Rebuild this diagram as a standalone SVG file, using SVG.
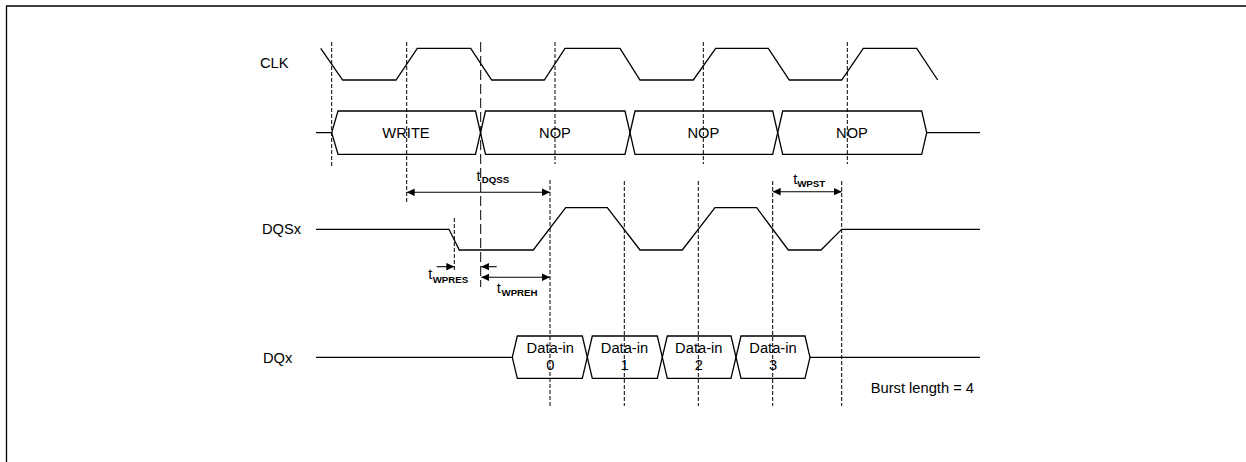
<svg xmlns="http://www.w3.org/2000/svg" width="1246" height="462" viewBox="0 0 1246 462">
<style>
.w{fill:none;stroke:#000;stroke-width:1.3;stroke-linejoin:miter}
.d{fill:none;stroke:#000;stroke-width:1;stroke-dasharray:4 2}
.dl{fill:none;stroke:#000;stroke-width:1;stroke-dasharray:10 4}
.a{fill:none;stroke:#000;stroke-width:1.1}
.t{font-family:"Liberation Sans",Arial,sans-serif;font-size:14.7px;fill:#000}
.c{text-anchor:middle}
.s{font-family:"Liberation Sans",Arial,sans-serif;font-size:9.7px;font-weight:bold;fill:#000}
</style>
<defs>
<marker id="ah" markerUnits="userSpaceOnUse" markerWidth="8" markerHeight="8" refX="8" refY="3.75" orient="auto-start-reverse" viewBox="0 0 8 7.5">
<path d="M0,0 L8,3.75 L0,7.5 z" fill="#000"/>
</marker>
</defs>
<rect width="1246" height="462" fill="#fff"/>
<g id="frame">
<path class="w" d="M6.5,462 V6 H1246"/>
</g>
<g id="labels">
<text class="t" x="260" y="68.3">CLK</text>
<text class="t" x="262" y="234.3">DQSx</text>
<text class="t" x="263" y="362.5">DQx</text>
</g>
<g id="guides">
<line class="d" x1="331.7" y1="42" x2="331.7" y2="166"/>
<line class="d" x1="406.7" y1="42" x2="406.7" y2="203"/>
<line class="d" x1="555" y1="42" x2="555" y2="164"/>
<line class="d" x1="703.3" y1="42" x2="703.3" y2="164"/>
<line class="d" x1="847.3" y1="42" x2="847.3" y2="164"/>
<line class="d" x1="454.3" y1="218" x2="454.3" y2="270"/>
<line class="d" x1="550" y1="180" x2="550" y2="406"/>
<line class="d" x1="624.3" y1="181" x2="624.3" y2="406"/>
<line class="d" x1="698.3" y1="181" x2="698.3" y2="406"/>
<line class="d" x1="772.7" y1="181" x2="772.7" y2="406"/>
<line class="d" x1="841.7" y1="181" x2="841.7" y2="406"/>
<line class="dl" x1="480.7" y1="42" x2="480.7" y2="287"/>
</g>
<g id="clk">
<path class="w" d="M320.7,48.3 L342.7,80 H396 L417.3,48.3 H470.7 L491.7,80 H544.3 L565,48.3 H620 L640,80 H693.3 L715.7,48.3 H768.3 L789.3,80 H841.7 L863.3,48.3 H916.7 L937.7,80"/>
</g>
<g id="cmd">
<path class="w" d="M316,132.7 H331.7 L338,111 H475.5 L485.5,154.3 H625 L635,111 H772.7 L782.7,154.3 H921.7 L926.7,132.7 H980"/>
<path class="w" d="M331.7,132.7 L338,154.3 H475.5 L485.5,111 H625 L635,154.3 H772.7 L782.7,111 H921.7 L926.7,132.7"/>
<text class="t c" x="406" y="138.3">WRITE</text>
<text class="t c" x="555" y="138.3">NOP</text>
<text class="t c" x="703.3" y="138.3">NOP</text>
<text class="t c" x="852" y="138.3">NOP</text>
</g>
<g id="dqs">
<path class="w" d="M316,229.3 H449 L459.3,250 H533.3 L565.7,207.7 H607.3 L640,250 H682.3 L715,207.7 H756.7 L788.3,250 H821 L841.7,229.3 H980"/>
</g>
<g id="dq">
<path class="w" d="M316,357.3 H512.3 L517.3,336 H582.3 L592.3,378.3 H657.3 L667.3,336 H731 L741,378.3 H805 L810,357.3 H980"/>
<path class="w" d="M512.3,357.3 L517.3,378.3 H582.3 L592.3,336 H657.3 L667.3,378.3 H731 L741,336 H805 L810,357.3"/>
<text class="t c" x="550.3" y="353.3">Data-in</text>
<text class="t c" x="550.3" y="370">0</text>
<text class="t c" x="624.5" y="353.3">Data-in</text>
<text class="t c" x="624.5" y="370">1</text>
<text class="t c" x="698.8" y="353.3">Data-in</text>
<text class="t c" x="698.8" y="370">2</text>
<text class="t c" x="773" y="353.3">Data-in</text>
<text class="t c" x="773" y="370">3</text>
<text class="t" x="870.7" y="393">Burst length = 4</text>
</g>
<g id="connectors">
<line class="a" x1="406.7" y1="192.3" x2="550" y2="192.3" marker-start="url(#ah)" marker-end="url(#ah)"/>
<line class="a" x1="772.7" y1="191.7" x2="841.7" y2="191.7" marker-start="url(#ah)" marker-end="url(#ah)"/>
<line class="a" x1="436.7" y1="266.7" x2="454.3" y2="266.7" marker-end="url(#ah)"/>
<line class="a" x1="496.7" y1="266.7" x2="481.2" y2="266.7" marker-end="url(#ah)"/>
<line class="a" x1="481.2" y1="277.3" x2="550" y2="277.3" marker-start="url(#ah)" marker-end="url(#ah)"/>
</g>
<g id="timing-labels">
<text class="t" x="476.5" y="180.5">t</text><text class="s" x="481.7" y="182.8">DQSS</text>
<text class="t" x="793.3" y="184">t</text><text class="s" x="797.2" y="187.3">WPST</text>
<text class="t" x="428.3" y="279">t</text><text class="s" x="432.7" y="283.3">WPRES</text>
<text class="t" x="496.7" y="293.3">t</text><text class="s" x="501.5" y="296">WPREH</text>
</g>
</svg>
